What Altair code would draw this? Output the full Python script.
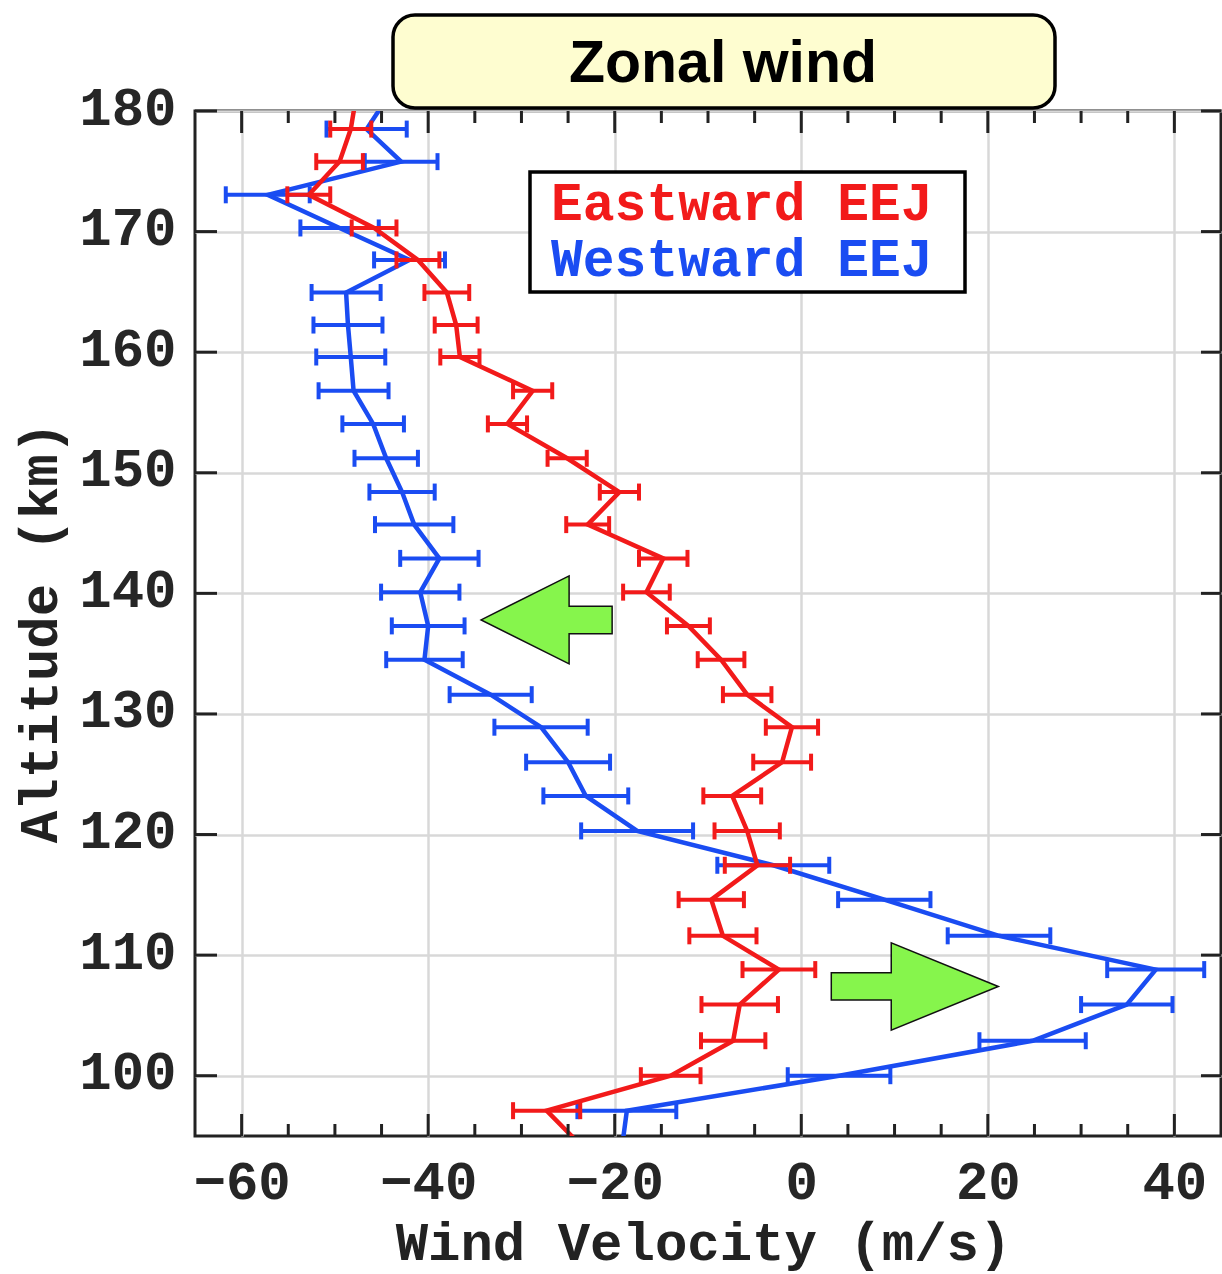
import altair as alt
import pandas as pd

# ---------------- data ----------------
altitude = [181.3, 178.5, 175.8, 173.05, 170.3, 167.65, 164.95, 162.25, 159.6, 156.8,
            154.05, 151.2, 148.4, 145.7, 142.9, 140.1, 137.3, 134.5, 131.6, 128.9,
            126.0, 123.2, 120.3, 117.45, 114.6, 111.6, 108.8, 105.9, 102.9, 100.0,
            97.1, 94.2]

east_wind = [-47.7, -48.3, -49.5, -52.8, -45.8, -41.1, -38.0, -37.0, -36.6, -28.8,
             -31.5, -25.1, -19.5, -22.9, -14.8, -16.6, -12.1, -8.6, -5.8, -1.0,
             -2.05, -7.4, -5.8, -4.7, -9.65, -8.4, -2.4, -6.6, -7.3, -14.0,
             -27.3, -23.6]
east_err = [2.2, 2.2, 2.5, 2.3, 2.4, 2.3, 2.4, 2.3, 2.1, 2.1,
            2.1, 2.1, 2.1, 2.3, 2.6, 2.5, 2.3, 2.5, 2.6, 2.8,
            3.1, 3.1, 3.5, 3.5, 3.5, 3.6, 3.9, 4.1, 3.45, 3.2,
            3.6, 3.6]

west_wind = [-44.2, -46.6, -42.9, -57.2, -49.5, -42.0, -48.8, -48.6, -48.3, -48.0,
             -45.9, -44.5, -42.8, -41.5, -38.8, -40.85, -40.0, -40.4, -33.3, -27.9,
             -25.0, -23.1, -17.6, -3.0, 8.9, 21.2, 38.0, 34.9, 24.8, 4.05,
             -18.7, -19.2]
west_err = [4.0, 4.3, 3.9, 4.5, 4.2, 3.8, 3.7, 3.7, 3.7, 3.75,
            3.3, 3.4, 3.5, 4.2, 4.2, 4.2, 3.9, 4.1, 4.4, 5.0,
            4.5, 4.55, 6.0, 6.0, 4.95, 5.5, 5.2, 4.9, 5.7, 5.5,
            5.3, 5.3]

series_names = ["Westward EEJ", "Eastward EEJ"]
series_colors = ["#1a4cf2", "#f21a1a"]

x_major = [-60, -40, -20, 0, 20, 40]
x_minor = [-55, -50, -45, -35, -30, -25, -15, -10, -5, 5, 10, 15, 25, 30, 35]
y_major = [100, 110, 120, 130, 140, 150, 160, 170, 180]

title_text = ["Zonal wind"]

arrow_x = [-27.3, 12.17]
arrow_y = [137.8, 107.4]

# ---------------- layout ----------------
W, H = 1026, 1025
PAD_L, PAD_T = 195, 111
FONT_MONO = "Liberation Mono"

xscale = alt.Scale(domain=[-65, 45], nice=False, zero=False)
yscale = alt.Scale(domain=[95, 180], nice=False, zero=False)

xaxis = alt.Axis(values=x_major, grid=True, gridColor="#d8d8d8", gridWidth=2.5,
                 ticks=False, domain=False, labelFont=FONT_MONO, labelFontSize=54,
                 labelFontWeight="bold", labelColor="#262626", labelPadding=19,
                 labelFlush=False, labelOverlap=False,
                 title="Wind Velocity (m/s)", titleFont=FONT_MONO, titleFontSize=54,
                 titleFontWeight="bold", titleColor="#222222", titleX=508, titleY=123,
                 titleAlign="center", titleBaseline="alphabetic", titleAngle=0)
yaxis = alt.Axis(values=y_major, grid=True, gridColor="#d8d8d8", gridWidth=2.5,
                 ticks=False, domain=False, labelFont=FONT_MONO, labelFontSize=54,
                 labelFontWeight="bold", labelColor="#262626", labelPadding=19,
                 labelFlush=False, labelOverlap=False, labelBaseline="middle",
                 labelOffset=-3,
                 title="Altitude (km)", titleFont=FONT_MONO, titleFontSize=54,
                 titleFontWeight="bold", titleColor="#222222", titleX=-139, titleY=521,
                 titleAlign="center", titleBaseline="alphabetic", titleAngle=270)


def X(field):
    return alt.X(field, type="quantitative", scale=xscale, axis=xaxis)


def Y(field):
    return alt.Y(field, type="quantitative", scale=yscale, axis=yaxis)


def series_df(name, wind, err):
    d = pd.DataFrame({"alt": altitude, "wind": wind, "err": err})
    d["lo"] = d["wind"] - d["err"]
    d["hi"] = d["wind"] + d["err"]
    d["series"] = name
    return d


frames = {
    "Westward EEJ": series_df("Westward EEJ", west_wind, west_err),
    "Eastward EEJ": series_df("Eastward EEJ", east_wind, east_err),
}

layers = []
for name, color in zip(series_names, series_colors):
    d = frames[name]
    base = alt.Chart(d)
    bars = base.mark_rule(color=color, strokeWidth=4, clip=True).encode(
        x=X("lo"), x2="hi", y=Y("alt"))
    cap_lo = base.mark_tick(color=color, orient="vertical", size=17, thickness=4,
                            opacity=1, clip=True).encode(x=X("lo"), y=Y("alt"))
    cap_hi = base.mark_tick(color=color, orient="vertical", size=17, thickness=4,
                            opacity=1, clip=True).encode(x=X("hi"), y=Y("alt"))
    line = base.mark_line(color=color, strokeWidth=4.5, clip=True).encode(
        x=X("wind"), y=Y("alt"), order=alt.Order("alt:Q"))
    layers += [bars, cap_lo, cap_hi, line]

# inward tick marks on all four sides
xmaj = alt.Chart(pd.DataFrame({"v": x_major}))
xmin = alt.Chart(pd.DataFrame({"v": x_minor}))
ymaj = alt.Chart(pd.DataFrame({"v": y_major}))
tick_style = dict(color="#222222", strokeWidth=3)
layers += [
    xmaj.mark_rule(**tick_style).encode(x=X("v"), y=alt.value(H), y2=alt.value(H - 22)),
    xmin.mark_rule(**tick_style).encode(x=X("v"), y=alt.value(H), y2=alt.value(H - 12)),
    xmaj.mark_rule(**tick_style).encode(x=X("v"), y=alt.value(0), y2=alt.value(22)),
    xmin.mark_rule(**tick_style).encode(x=X("v"), y=alt.value(0), y2=alt.value(12)),
    ymaj.mark_rule(**tick_style).encode(y=Y("v"), x=alt.value(0), x2=alt.value(22)),
    ymaj.mark_rule(**tick_style).encode(y=Y("v"), x=alt.value(W), x2=alt.value(W - 20)),
]

# green arrows
left_arrow = "M -1 0 L 0.343 -0.672 L 0.343 -0.21 L 1 -0.21 L 1 0.21 L 0.343 0.21 L 0.343 0.672 Z"
right_arrow = "M 1 0 L -0.282 -0.523 L -0.282 -0.163 L -1 -0.163 L -1 0.163 L -0.282 0.163 L -0.282 0.523 Z"
arr = pd.DataFrame({"x": arrow_x, "y": arrow_y})
layers += [
    alt.Chart(arr.iloc[[0]]).mark_point(shape=left_arrow, filled=True, fill="#86f54c",
                                        stroke="#111111", strokeWidth=1.5, opacity=1,
                                        size=131 * 131).encode(x=X("x"), y=Y("y")),
    alt.Chart(arr.iloc[[1]]).mark_point(shape=right_arrow, filled=True, fill="#86f54c",
                                        stroke="#111111", strokeWidth=1.5, opacity=1,
                                        size=167 * 167).encode(x=X("x"), y=Y("y")),
]

# legend box
leg = alt.Chart(pd.DataFrame({"label": series_names}))
layers += [
    leg.transform_filter(alt.datum.label == "Westward EEJ").mark_rect(
        fill="white", stroke="black", strokeWidth=3.5).encode(
        x=alt.value(335), x2=alt.value(770), y=alt.value(61), y2=alt.value(181)),
    leg.transform_filter(alt.datum.label == "Eastward EEJ").mark_text(
        font=FONT_MONO, fontSize=53, fontWeight="bold", color=series_colors[1],
        align="left", baseline="alphabetic").encode(
        x=alt.value(356), y=alt.value(109), text="label:N"),
    leg.transform_filter(alt.datum.label == "Westward EEJ").mark_text(
        font=FONT_MONO, fontSize=53, fontWeight="bold", color=series_colors[0],
        align="left", baseline="alphabetic").encode(
        x=alt.value(356), y=alt.value(165), text="label:N"),
]

# title box
tt = alt.Chart(pd.DataFrame({"t": title_text}))
layers += [
    tt.mark_rect(fill="#fefdd0", stroke="black", strokeWidth=3.5, cornerRadius=22).encode(
        x=alt.value(198), x2=alt.value(860), y=alt.value(-96), y2=alt.value(-3)),
    tt.mark_text(font="Liberation Sans", fontSize=59, fontWeight="bold", color="black",
                 align="center", baseline="alphabetic").encode(
        x=alt.value(528), y=alt.value(-29), text="t:N"),
]

chart = alt.layer(*layers).properties(
    width=W, height=H,
    padding={"left": PAD_L, "top": PAD_T, "right": 1, "bottom": 1274 - PAD_T - H},
    autosize=alt.AutoSizeParams(type="none"),
    background="white",
).configure_view(stroke="#222222", strokeWidth=3)

chart.save("out.html", embed_options={"renderer": "svg", "actions": False})
